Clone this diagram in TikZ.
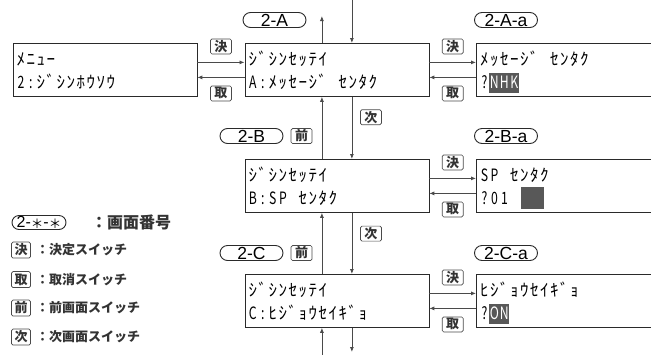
\documentclass[tikz,border=0pt]{standalone}
\usepackage{fontspec}
\usetikzlibrary{arrows.meta,calc}
\newfontfamily\jp{Noto Sans CJK JP}
\newfontfamily\lcdkana{Noto Sans CJK JP}
\newfontfamily\lcdlat[FakeStretch=0.72]{Noto Sans CJK JP}
\newfontfamily\lblf{Liberation Sans}
\definecolor{hlgray}{HTML}{585858}
\definecolor{boxc}{HTML}{2A2A2A}
\definecolor{linec}{HTML}{4A4A4A}
\definecolor{legc}{HTML}{333333}
\newlength\lcdw
\setlength\lcdw{10pt}
\makeatletter
\def\lcd@loop#1#2{\ifx#2\relax\else\makebox[\lcdw]{#1#2}\expandafter\lcd@loop\expandafter#1\fi}
\newcommand\lcdK[1]{\lcd@loop\lcdkana#1\relax}
\newcommand\lcdL[1]{\lcd@loop\lcdlat#1\relax}
\makeatother
\newcommand\sA{\rule{0pt}{19.5pt}}
\newcommand\sB{\rule[-4.5pt]{0pt}{4.5pt}}
\newcommand\hlt[1]{{\setlength\fboxsep{0pt}\colorbox{hlgray}{\rule[-4.5pt]{0pt}{20pt}\color{white}#1}}}
\tikzset{
  lcdbox/.style={draw=boxc, line width=0.8pt, anchor=north west, minimum height=53pt,
    inner xsep=3pt, inner ysep=0pt, align=left, text width=#1,
    font=\fontsize{17}{23}\selectfont},
  conn/.style={draw=linec, line width=0.8pt, -{Latex[length=5pt,width=4pt]}},
  keyb/.style={draw=linec, line width=0.7pt, rounded corners=1.5pt, minimum width=21pt,
    minimum height=15pt, inner sep=0pt, font=\jp\bfseries\fontsize{13}{13}\selectfont, text=legc},
  stad/.style={draw=boxc, line width=0.9pt, rounded corners=7.5pt, minimum width=63pt,
    minimum height=15pt, inner sep=0pt, font=\lblf\fontsize{17.5}{17.5}\selectfont},
  legt/.style={anchor=west, inner sep=0pt, text=legc, font=\jp\bfseries\fontsize{13}{13}\selectfont}
}
\begin{document}
\begin{tikzpicture}[x=1pt,y=-1pt]
\useasboundingbox (0,0) rectangle (651,354);
\fill[white] (0,0) rectangle (651,354);
\clip (0,0) rectangle (651,354);

% LCD boxes
\node[lcdbox=178pt] (menu) at (12.5,42.5) {\sA\lcdK{ﾒﾆｭｰ}\\\sB\lcdL{2:}\lcdK{ｼﾞｼﾝﾎｳｿｳ}};
\node[lcdbox=178pt] (A) at (244.5,43) {\sA\lcdK{ｼﾞｼﾝｾｯﾃｲ}\\\sB\lcdL{A:}\lcdK{ﾒｯｾｰｼﾞ~ｾﾝﾀｸ}};
\node[lcdbox=178pt] (B) at (244.5,159) {\sA\lcdK{ｼﾞｼﾝｾｯﾃｲ}\\\sB\lcdL{B:SP}\lcdK{~ｾﾝﾀｸ}};
\node[lcdbox=178pt] (C) at (244.5,274) {\sA\lcdK{ｼﾞｼﾝｾｯﾃｲ}\\\sB\lcdL{C:}\lcdK{ﾋｼﾞｮｳｾｲｷﾞｮ}};
\node[lcdbox=182pt] (Aa) at (476,43) {\sA\lcdK{ﾒｯｾｰｼﾞ~ｾﾝﾀｸ}\\\sB\lcdL{?}\hlt{\lcdL{NHK}}};
\node[lcdbox=182pt] (Ba) at (476,159) {\sA\lcdL{SP}\lcdK{~ｾﾝﾀｸ}\\\sB\lcdL{?01}\hspace{12pt}\textcolor{hlgray}{\rule[-4.5pt]{23pt}{22pt}}};
\node[lcdbox=182pt] (Ca) at (476,274) {\sA\lcdK{ﾋｼﾞｮｳｾｲｷﾞｮ}\\\sB\lcdL{?}\hlt{\lcdL{ON}}};

% horizontal connectors
\draw[conn] ([yshift=7.5pt]A.west -| menu.east) -- node[keyb, yshift=16pt] (k1) {決} ([yshift=7.5pt]A.west);
\draw[conn] ([yshift=-7.5pt]A.west) -- node[keyb, yshift=-16pt] (k2) {取} ([yshift=-7.5pt]A.west -| menu.east);
\draw[conn] ([yshift=7.5pt]A.east) -- node[keyb, yshift=16pt] (k3) {決} ([yshift=7.5pt]Aa.west);
\draw[conn] ([yshift=-7.5pt]Aa.west) -- node[keyb, yshift=-16pt] (k4) {取} ([yshift=-7.5pt]A.east);
\draw[conn] ([yshift=7.5pt]B.east) -- node[keyb, yshift=16pt] (k5) {決} ([yshift=7.5pt]Ba.west);
\draw[conn] ([yshift=-7.5pt]Ba.west) -- node[keyb, yshift=-16pt] (k6) {取} ([yshift=-7.5pt]B.east);
\draw[conn] ([yshift=7.5pt]C.east) -- node[keyb, yshift=16pt] (k7) {決} ([yshift=7.5pt]Ca.west);
\draw[conn] ([yshift=-7.5pt]Ca.west) -- node[keyb, yshift=-16pt] (k8) {取} ([yshift=-7.5pt]C.east);

% vertical connectors
\coordinate (tout) at ([xshift=-15pt]A.north |- 0,16);
\coordinate (tin) at ([xshift=15pt]A.north |- 0,-2);
\coordinate (bin) at ([xshift=-15pt]C.south |- 0,358);
\coordinate (bout) at ([xshift=15pt]C.south |- 0,352);
\draw[conn] ([xshift=-15pt]A.north) -- (tout);
\draw[conn] (tin) -- ([xshift=15pt]A.north);
\draw[conn] ([xshift=-15pt]B.north) -- ([xshift=-15pt]A.south);
\draw[conn] ([xshift=15pt]A.south) -- node[keyb, pos=0.33, xshift=19pt] (n1) {次} ([xshift=15pt]B.north);
\draw[conn] ([xshift=-15pt]C.north) -- ([xshift=-15pt]B.south);
\draw[conn] ([xshift=15pt]B.south) -- node[keyb, pos=0.34, xshift=19pt] (n2) {次} ([xshift=15pt]C.north);
\draw[conn] (bin) -- ([xshift=-15pt]C.south);
\draw[conn] ([xshift=15pt]C.south) -- (bout);

% screen number labels
\node[stad] (sA) at (274.5,20) {2-A};
\node[stad] (sB) at (251.5,136) {2-B};
\node[stad] (sC) at (251.5,253) {2-C};
\node[stad] (sAa) at (506,20) {2-A-a};
\node[stad] (sBa) at (506,136) {2-B-a};
\node[stad] (sCa) at (506,253) {2-C-a};
\node[keyb] (p1) at (301.5,136) {前};
\node[keyb] (p2) at (301.5,253) {前};

% legend
\node[stad, minimum width=54pt, minimum height=14pt, rounded corners=7pt, font=\lblf\fontsize{16}{16}\selectfont] (lg0) at (39,222.5) {2-\raisebox{-0.1ex}{\jp\fontsize{12.5}{12.5}\selectfont ＊}-\raisebox{-0.1ex}{\jp\fontsize{12.5}{12.5}\selectfont ＊}};
\node[legt, font=\jp\bfseries\fontsize{16}{16}\selectfont] (lt0) at (91,222.5) {：画面番号};
\node[keyb, minimum width=19pt, minimum height=16pt] (lg1) at (21,250) {決};
\node[legt] (lt1) at (36,250) {：決定スイッチ};
\node[keyb, minimum width=19pt, minimum height=16pt] (lg2) at (21,279.5) {取};
\node[legt] (lt2) at (36,279.5) {：取消スイッチ};
\node[keyb, minimum width=19pt, minimum height=16pt] (lg3) at (21,308) {前};
\node[legt] (lt3) at (36,308) {：前画面スイッチ};
\node[keyb, minimum width=19pt, minimum height=16pt] (lg4) at (21,337) {次};
\node[legt] (lt4) at (36,337) {：次画面スイッチ};
\end{tikzpicture}
\end{document}
